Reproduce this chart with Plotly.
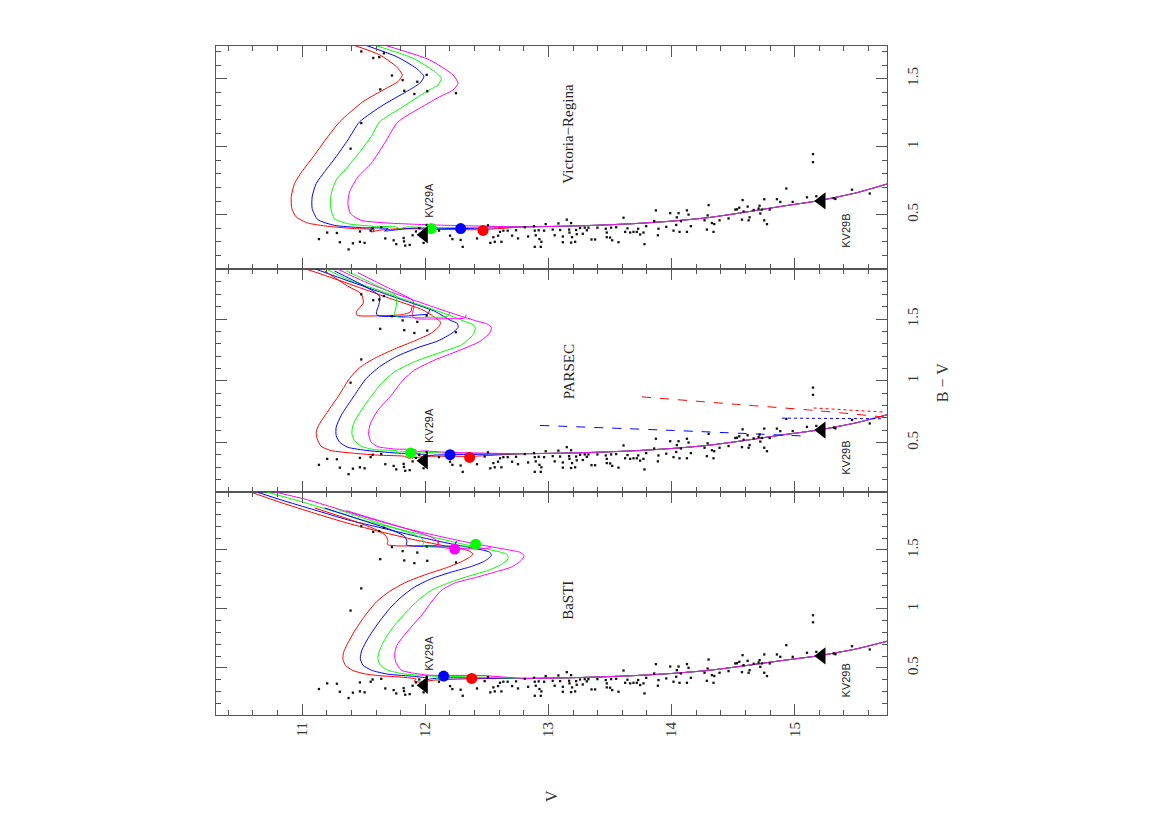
import plotly.graph_objects as go
from plotly.subplots import make_subplots

# ---------------- observed stars (V, B-V) ----------------
STAR_V = [11.48, 11.577, 11.626, 11.664, 11.729, 11.816, 11.935, 12.011, 11.634, 11.829, 11.911, 12.016, 12.249, 11.48, 11.393,
          11.136, 11.203, 11.282, 11.306, 11.377, 11.412, 11.469, 11.469, 11.507, 11.556, 11.572, 11.642, 11.675, 11.743, 11.764,
          11.824, 11.827, 11.837, 11.873, 11.897, 11.924, 11.951, 11.986, 12.011, 12.111, 12.201, 12.220, 12.287, 12.304, 12.420,
          12.482, 12.509, 12.528, 12.553, 12.564, 12.591, 12.607, 12.618, 12.634, 12.669, 12.705, 12.737, 12.753, 12.808, 12.835,
          12.883, 12.889, 12.897, 12.921, 12.927, 12.889, 12.938, 12.943, 12.978, 12.965,
          13.035, 13.051, 13.081, 13.095, 13.117, 13.117, 13.149, 13.168, 13.171, 13.184, 13.184, 13.192, 13.217, 13.225, 13.230,
          13.257, 13.279, 13.295, 13.312, 13.325, 13.350, 13.379, 13.398, 13.466, 13.474, 13.474, 13.501, 13.509, 13.518, 13.550,
          13.569, 13.610, 13.623, 13.642, 13.664, 13.691, 13.718, 13.729, 13.745, 13.772, 13.780, 13.794, 13.859, 13.873, 13.889,
          13.894, 13.957, 13.989, 14.016, 14.038, 14.043, 14.057, 14.065, 14.076, 14.125, 14.125, 14.138, 14.157, 14.268, 14.287,
          14.293, 14.301, 14.328, 14.341, 14.347, 14.390, 14.463, 14.518, 14.531, 14.550, 14.572, 14.577, 14.585, 14.618, 14.626,
          14.634, 14.667, 14.707, 14.715, 14.721, 14.734, 14.753, 14.753, 14.775, 14.797, 14.856, 14.883, 14.932, 14.984, 15.100,
          15.149, 15.149, 15.176, 15.317, 15.331, 15.466, 15.610]
STAR_BV = [1.70, 1.652, 1.658, 1.686, 1.523, 1.489, 1.477, 1.528, 1.421, 1.410, 1.387, 1.407, 1.393, 1.173, 0.985,
           0.320, 0.368, 0.365, 0.297, 0.244, 0.289, 0.376, 0.300, 0.292, 0.382, 0.401, 0.407, 0.325, 0.311, 0.283,
           0.328, 0.303, 0.272, 0.277, 0.348, 0.376, 0.401, 0.292, 0.424, 0.382, 0.345, 0.320, 0.314, 0.263, 0.325,
           0.387, 0.421, 0.292, 0.334, 0.300, 0.345, 0.373, 0.300, 0.382, 0.382, 0.345, 0.385, 0.325, 0.407, 0.339,
           0.415, 0.382, 0.348, 0.385, 0.320, 0.263, 0.263, 0.300, 0.430, 0.382,
           0.390, 0.348, 0.435, 0.387, 0.339, 0.297, 0.463, 0.390, 0.368, 0.438, 0.294, 0.334, 0.300, 0.387, 0.356,
           0.401, 0.359, 0.404, 0.385, 0.404, 0.317, 0.317, 0.404, 0.396, 0.368, 0.334, 0.331, 0.404, 0.311, 0.407,
           0.297, 0.477, 0.373, 0.399, 0.368, 0.373, 0.373, 0.396, 0.354, 0.368, 0.283, 0.415, 0.452, 0.531, 0.348,
           0.396, 0.410, 0.511, 0.382, 0.424, 0.480, 0.511, 0.373, 0.452, 0.531, 0.373, 0.500, 0.415, 0.458, 0.390,
           0.494, 0.570, 0.438, 0.373, 0.430, 0.458, 0.472, 0.537, 0.539, 0.551, 0.463, 0.607, 0.523, 0.559, 0.458,
           0.480, 0.534, 0.545, 0.565, 0.508, 0.537, 0.613, 0.458, 0.430, 0.537, 0.613, 0.593, 0.692, 0.593, 0.627,
           0.945, 0.886, 0.635, 0.621, 0.615, 0.683, 0.655]

# binary components
KV29_V = [11.99, 15.22]
KV29_BV = [0.352, 0.601]
KV29_NAMES = ["KV29A", "KV29B"]

# common lower main sequence of the isochrones
MS_V = [15.75, 15.5, 15.2, 14.9, 14.6, 14.3, 14.0, 13.7, 13.4, 13.1, 12.8]
MS_BV = [0.725, 0.66, 0.603, 0.562, 0.518, 0.478, 0.452, 0.434, 0.422, 0.414, 0.41]

# ---------------- BaSTI ----------------
BASTI_RED_V = [12.374, 12.076, 11.954, 11.908, 11.927, 11.805, 11.642, 11.507, 11.412, 11.352, 11.331, 11.336, 11.366, 11.425,
               11.507, 11.602, 11.710, 11.846, 12.008, 12.171, 12.293, 12.360, 12.388, 12.347, 12.184, 11.913, 11.642,
               11.371, 11.100, 10.829, 10.594]
BASTI_RED_BV = [0.407, 0.396, 0.379, 0.387, 0.404, 0.421, 0.432, 0.449, 0.477, 0.520, 0.573, 0.630, 0.700, 0.810,
                0.937, 1.058, 1.148, 1.227, 1.292, 1.348, 1.399, 1.438, 1.466, 1.494, 1.528, 1.585, 1.652,
                1.725, 1.810, 1.900, 1.985]
BASTI_BLUE_V = [12.184, 12.049, 11.995, 12.022, 11.913, 11.696, 11.561, 11.493, 11.472, 11.485, 11.534, 11.615, 11.710,
                11.805, 11.913, 12.049, 12.211, 12.374, 12.482, 12.537, 12.523, 12.455, 12.184, 11.913, 11.642, 11.371,
                11.100, 10.829, 10.640]
BASTI_BLUE_BV = [0.415, 0.407, 0.393, 0.410, 0.427, 0.446, 0.480, 0.523, 0.579, 0.649, 0.748, 0.875, 1.001,
                 1.100, 1.185, 1.255, 1.311, 1.359, 1.404, 1.452, 1.480, 1.500, 1.556, 1.618, 1.686, 1.754,
                 1.838, 1.923, 1.987]
BASTI_GREEN_V = [12.347, 12.157, 12.090, 12.117, 11.967, 11.805, 11.696, 11.634, 11.615, 11.629, 11.675, 11.751, 11.846,
                 11.940, 12.049, 12.184, 12.347, 12.509, 12.618, 12.672, 12.664, 12.591, 12.320, 12.049, 11.778, 11.507,
                 11.236, 10.965, 10.721]
BASTI_GREEN_BV = [0.424, 0.424, 0.410, 0.424, 0.435, 0.452, 0.480, 0.523, 0.579, 0.649, 0.748, 0.861, 0.973,
                  1.072, 1.156, 1.218, 1.275, 1.325, 1.376, 1.424, 1.461, 1.486, 1.545, 1.611, 1.677, 1.748,
                  1.832, 1.917, 1.987]
BASTI_MAGENTA_V = [12.455, 12.184, 12.022, 11.886, 11.805, 11.759, 11.751, 11.770, 11.818, 11.886, 11.981, 12.049, 12.130,
                   12.238, 12.401, 12.564, 12.699, 12.780, 12.802, 12.767, 12.672, 12.401, 12.130, 11.859, 11.588,
                   11.317, 11.046, 10.789]
BASTI_MAGENTA_BV = [0.435, 0.435, 0.438, 0.458, 0.480, 0.551, 0.621, 0.692, 0.762, 0.846, 0.959, 1.058, 1.156,
                    1.218, 1.263, 1.311, 1.354, 1.410, 1.452, 1.480, 1.500, 1.551, 1.611, 1.677, 1.754,
                    1.838, 1.923, 1.987]
# He-burning (clump + AGB) tracks
BASTI_HB_RED_V = [11.100, 11.371, 11.588, 11.678, 11.696, 11.691, 11.764, 11.967, 12.098, 12.108]
BASTI_HB_RED_BV = [1.855, 1.762, 1.677, 1.621, 1.579, 1.545, 1.534, 1.534, 1.542, 1.579]
BASTI_HB_BLUE_V = [11.182, 11.453, 11.724, 11.832, 11.851, 11.846, 11.913, 12.130, 12.238, 12.252]
BASTI_HB_BLUE_BV = [1.855, 1.762, 1.669, 1.613, 1.573, 1.542, 1.531, 1.531, 1.537, 1.573]
BASTI_HB_GREEN_V = [11.276, 11.561, 11.859, 11.967, 11.986, 11.981, 12.049, 12.293, 12.401]
BASTI_HB_GREEN_BV = [1.846, 1.748, 1.649, 1.601, 1.565, 1.537, 1.523, 1.523, 1.528]
BASTI_HB_MAGENTA_V = [11.358, 11.669, 11.995, 12.089, 12.108, 12.103, 12.184, 12.428, 12.537]
BASTI_HB_MAGENTA_BV = [1.832, 1.734, 1.630, 1.585, 1.551, 1.528, 1.514, 1.508, 1.517]

# ---------------- PARSEC ----------------
PARSEC_RED_V = [12.374, 12.022, 11.859, 11.832, 11.642, 11.425, 11.236, 11.154, 11.122, 11.114, 11.133, 11.182, 11.290,
                11.385, 11.466, 11.588, 11.751, 11.913, 12.049, 12.111, 12.125, 12.103, 11.981, 11.710, 11.439,
                11.168, 11.005]
PARSEC_RED_BV = [0.389, 0.389, 0.375, 0.389, 0.397, 0.413, 0.435, 0.470, 0.530, 0.584, 0.639, 0.715, 0.870,
                 1.019, 1.106, 1.182, 1.258, 1.323, 1.386, 1.440, 1.473, 1.495, 1.573, 1.668, 1.764,
                 1.859, 1.913]
PARSEC_BLUE_V = [12.238, 12.076, 11.981, 11.995, 11.805, 11.534, 11.371, 11.304, 11.276, 11.276, 11.317, 11.425, 11.520,
                 11.629, 11.764, 11.940, 12.103, 12.217, 12.266, 12.260, 12.211, 12.076, 11.805, 11.534, 11.263, 11.087]
PARSEC_BLUE_BV = [0.402, 0.399, 0.389, 0.402, 0.413, 0.435, 0.462, 0.503, 0.557, 0.625, 0.720, 0.883, 1.019,
                  1.114, 1.196, 1.269, 1.323, 1.386, 1.432, 1.465, 1.486, 1.563, 1.658, 1.753, 1.848, 1.913]
PARSEC_GREEN_V = [12.130, 11.805, 11.751, 11.772, 11.588, 11.480, 11.425, 11.404, 11.412, 11.453, 11.547, 11.642, 11.751,
                  11.913, 12.103, 12.293, 12.388, 12.407, 12.388, 12.320, 12.184, 11.913, 11.642, 11.371, 11.182]
PARSEC_GREEN_BV = [0.416, 0.427, 0.413, 0.432, 0.443, 0.470, 0.516, 0.571, 0.639, 0.720, 0.856, 0.978, 1.073,
                   1.155, 1.223, 1.291, 1.372, 1.427, 1.454, 1.481, 1.535, 1.630, 1.726, 1.821, 1.910]
PARSEC_MAGENTA_V = [12.184, 11.967, 11.913, 11.927, 11.751, 11.615, 11.561, 11.539, 11.553, 11.615, 11.724, 11.818, 11.913,
                    12.076, 12.266, 12.442, 12.523, 12.537, 12.504, 12.428, 12.293, 12.049, 11.778, 11.507, 11.276]
PARSEC_MAGENTA_BV = [0.421, 0.432, 0.421, 0.440, 0.448, 0.467, 0.503, 0.571, 0.652, 0.761, 0.883, 1.005, 1.087,
                     1.168, 1.242, 1.318, 1.386, 1.432, 1.459, 1.481, 1.522, 1.603, 1.698, 1.802, 1.910]
PARSEC_HB_RED_V = [11.182, 11.371, 11.480, 11.496, 11.439, 11.447, 11.642, 11.805, 11.881, 11.892]
PARSEC_HB_RED_BV = [1.889, 1.766, 1.704, 1.630, 1.557, 1.530, 1.527, 1.535, 1.557, 1.603]
PARSEC_HB_BLUE_V = [11.263, 11.480, 11.629, 11.623, 11.602, 11.615, 11.805, 11.967, 12.022, 12.035]
PARSEC_HB_BLUE_BV = [1.889, 1.780, 1.685, 1.617, 1.549, 1.527, 1.522, 1.535, 1.541, 1.576]
PARSEC_HB_GREEN_V = [11.358, 11.588, 11.764, 11.764, 11.751, 11.778, 12.022, 12.184, 12.198]
PARSEC_HB_GREEN_BV = [1.889, 1.780, 1.685, 1.603, 1.535, 1.516, 1.514, 1.522, 1.549]
PARSEC_HB_MAGENTA_V = [11.453, 11.696, 11.900, 11.905, 11.894, 11.927, 12.184, 12.320, 12.333]
PARSEC_HB_MAGENTA_BV = [1.875, 1.753, 1.649, 1.590, 1.522, 1.503, 1.503, 1.508, 1.535]
# extra PARSEC lines
PARSEC_RED_DASH_V = [13.759, 14.558, 15.154, 15.724]
PARSEC_RED_DASH_BV = [0.870, 0.807, 0.761, 0.707]
PARSEC_RED_DOT_V = [15.154, 15.724]
PARSEC_RED_DOT_BV = [0.780, 0.747]
PARSEC_BLUE_DASH_V = [12.932, 14.016, 15.100]
PARSEC_BLUE_DASH_BV = [0.639, 0.598, 0.552]
PARSEC_BLUE_DOT_V = [14.897, 15.724]
PARSEC_BLUE_DOT_BV = [0.698, 0.693]

# ---------------- Victoria-Regina ----------------
VR_RED_V = [12.455, 12.049, 11.805, 11.615, 11.561, 11.588, 11.425, 11.209, 11.046, 10.951, 10.916, 10.911, 10.938,
            10.997, 11.100, 11.209, 11.304, 11.493, 11.683, 11.778, 11.813, 11.764, 11.629, 11.425]
VR_RED_BV = [0.389, 0.392, 0.397, 0.384, 0.372, 0.389, 0.397, 0.414, 0.438, 0.483, 0.544, 0.631, 0.729,
             0.815, 0.938, 1.074, 1.182, 1.330, 1.429, 1.478, 1.527, 1.589, 1.675, 1.744]
VR_BLUE_V = [12.293, 11.913, 11.724, 11.669, 11.696, 11.480, 11.263, 11.127, 11.081, 11.081, 11.114, 11.182, 11.276,
             11.371, 11.466, 11.656, 11.846, 11.954, 11.989, 11.927, 11.764, 11.520]
VR_BLUE_BV = [0.397, 0.401, 0.384, 0.379, 0.397, 0.404, 0.421, 0.463, 0.544, 0.631, 0.729, 0.815, 0.926,
              1.049, 1.182, 1.305, 1.404, 1.466, 1.515, 1.576, 1.663, 1.744]
VR_GREEN_V = [12.049, 11.846, 11.791, 11.764, 11.588, 11.371, 11.263, 11.230, 11.236, 11.276, 11.371, 11.480, 11.561,
              11.629, 11.818, 12.008, 12.103, 12.130, 12.076, 11.900, 11.596]
VR_GREEN_BV = [0.404, 0.409, 0.397, 0.409, 0.414, 0.433, 0.470, 0.557, 0.655, 0.754, 0.852, 0.975, 1.074,
               1.182, 1.293, 1.404, 1.453, 1.502, 1.552, 1.650, 1.744]
VR_MAGENTA_V = [12.184, 11.913, 11.696, 11.480, 11.393, 11.371, 11.385, 11.453, 11.561, 11.669, 11.778, 11.927, 12.117,
                12.225, 12.266, 12.225, 12.035, 11.678]
VR_MAGENTA_BV = [0.421, 0.429, 0.438, 0.458, 0.507, 0.581, 0.667, 0.778, 0.877, 1.025, 1.182, 1.268, 1.367,
                 1.416, 1.466, 1.527, 1.638, 1.744]

# coloured reference points
BASTI_DOT_V = [12.377, 12.149, 12.409, 12.238]
BASTI_DOT_BV = [0.410, 0.430, 1.548, 1.506]
BASTI_DOT_C = ["red", "blue", "green", "magenta"]
PARSEC_DOT_V = [12.360, 12.201, 11.881]
PARSEC_DOT_BV = [0.380, 0.402, 0.416]
PARSEC_DOT_C = ["red", "blue", "green"]
VR_DOT_V = [12.469, 12.287, 12.049]
VR_DOT_BV = [0.384, 0.397, 0.397]
VR_DOT_C = ["red", "blue", "green"]

PANEL_NAMES = ["Victoria\u2212Regina", "PARSEC", "BaSTI"]
Y_RANGES = [[0.1, 1.74], [0.1, 1.905], [0.1, 1.99]]
X_RANGE = [10.3, 15.75]

COL = {"red": "#ff0000", "blue": "#0000ff", "green": "#00ff00", "magenta": "#ff00ff"}
SERIF = "Liberation Serif, DejaVu Serif, serif"
SANS = "Liberation Sans, DejaVu Sans, sans-serif"

fig = make_subplots(rows=3, cols=1, shared_xaxes=True, vertical_spacing=0)

def line(row, xs, ys, color, dash="solid", full=True):
    if full:
        xs = MS_V + xs
        ys = MS_BV + ys
    fig.add_trace(go.Scatter(x=xs, y=ys, mode="lines",
                             line=dict(color=COL[color], width=1, dash=dash, shape="spline", smoothing=0.6),
                             showlegend=False, hoverinfo="skip"), row=row, col=1)

# VR (row 1)
line(1, VR_RED_V, VR_RED_BV, "red")
line(1, VR_BLUE_V, VR_BLUE_BV, "blue")
line(1, VR_GREEN_V, VR_GREEN_BV, "green")
line(1, VR_MAGENTA_V, VR_MAGENTA_BV, "magenta")
# PARSEC (row 2)
line(2, PARSEC_RED_V, PARSEC_RED_BV, "red")
line(2, PARSEC_BLUE_V, PARSEC_BLUE_BV, "blue")
line(2, PARSEC_GREEN_V, PARSEC_GREEN_BV, "green")
line(2, PARSEC_MAGENTA_V, PARSEC_MAGENTA_BV, "magenta")
line(2, PARSEC_HB_RED_V, PARSEC_HB_RED_BV, "red", full=False)
line(2, PARSEC_HB_BLUE_V, PARSEC_HB_BLUE_BV, "blue", full=False)
line(2, PARSEC_HB_GREEN_V, PARSEC_HB_GREEN_BV, "green", full=False)
line(2, PARSEC_HB_MAGENTA_V, PARSEC_HB_MAGENTA_BV, "magenta", full=False)
line(2, PARSEC_RED_DASH_V, PARSEC_RED_DASH_BV, "red", dash="dash", full=False)
line(2, PARSEC_RED_DOT_V, PARSEC_RED_DOT_BV, "red", dash="dot", full=False)
line(2, PARSEC_BLUE_DASH_V, PARSEC_BLUE_DASH_BV, "blue", dash="dash", full=False)
line(2, PARSEC_BLUE_DOT_V, PARSEC_BLUE_DOT_BV, "blue", dash="dot", full=False)
# BaSTI (row 3)
line(3, BASTI_RED_V, BASTI_RED_BV, "red")
line(3, BASTI_BLUE_V, BASTI_BLUE_BV, "blue")
line(3, BASTI_GREEN_V, BASTI_GREEN_BV, "green")
line(3, BASTI_MAGENTA_V, BASTI_MAGENTA_BV, "magenta")
line(3, BASTI_HB_RED_V, BASTI_HB_RED_BV, "red", full=False)
line(3, BASTI_HB_BLUE_V, BASTI_HB_BLUE_BV, "blue", full=False)
line(3, BASTI_HB_GREEN_V, BASTI_HB_GREEN_BV, "green", full=False)
line(3, BASTI_HB_MAGENTA_V, BASTI_HB_MAGENTA_BV, "magenta", full=False)

dot_sets = [(VR_DOT_V, VR_DOT_BV, VR_DOT_C), (PARSEC_DOT_V, PARSEC_DOT_BV, PARSEC_DOT_C),
            (BASTI_DOT_V, BASTI_DOT_BV, BASTI_DOT_C)]

for r in (1, 2, 3):
    fig.add_trace(go.Scatter(x=STAR_V, y=STAR_BV, mode="markers",
                             marker=dict(symbol="square", size=2.3, color="#111", line=dict(width=0)),
                             showlegend=False, hoverinfo="skip"), row=r, col=1)
    dv, dbv, dc = dot_sets[r - 1]
    fig.add_trace(go.Scatter(x=dv, y=dbv, mode="markers",
                             marker=dict(symbol="circle", size=11, color=[COL[c] for c in dc], line=dict(width=0)),
                             showlegend=False, hoverinfo="skip"), row=r, col=1)
    fig.add_trace(go.Scatter(x=KV29_V, y=KV29_BV, mode="markers",
                             marker=dict(symbol="triangle-left", size=15, color="black", line=dict(width=0)),
                             showlegend=False, hoverinfo="skip"), row=r, col=1)

axis_common = dict(showgrid=False, zeroline=False, showline=True, linecolor="#555", linewidth=1,
                   mirror="allticks", ticks="inside", tickcolor="#555", tickwidth=1)

for r in (1, 2, 3):
    fig.update_xaxes(range=X_RANGE, dtick=1, tick0=11, ticklen=11,
                     minor=dict(ticks="inside", dtick=0.2, tick0=11, ticklen=5, tickcolor="#555"),
                     tickangle=-90, tickfont=dict(family=SERIF, size=15, color="#333"),
                     showticklabels=(r == 3), row=r, col=1, **axis_common)
    fig.update_yaxes(range=Y_RANGES[r - 1], tickvals=[0.5, 1, 1.5], ticktext=["0.5", "1", "1.5"],
                     ticklen=11, side="right",
                     minor=dict(ticks="inside", dtick=0.1, tick0=0, ticklen=5, tickcolor="#555"),
                     tickangle=-90, tickfont=dict(family=SERIF, size=15, color="#333"),
                     ticklabelstandoff=12, row=r, col=1, **axis_common)

# annotations
ann = []
label_pos = [(13.163, 1.099), (13.163, 1.073), (13.163, 1.072)]
kva_pos = [(12.035, 0.606), (12.035, 0.639), (12.035, 0.624)]
kvb_pos = [(15.42, 0.384), (15.42, 0.380), (15.42, 0.396)]
for i in range(3):
    xr = "x" if i == 0 else "x%d" % (i + 1)
    yr = "y" if i == 0 else "y%d" % (i + 1)
    ann.append(dict(x=label_pos[i][0], y=label_pos[i][1], xref=xr, yref=yr, text=PANEL_NAMES[i],
                    textangle=-90, showarrow=False, font=dict(family=SERIF, size=15, color="#222")))
    ann.append(dict(x=kva_pos[i][0], y=kva_pos[i][1], xref=xr, yref=yr, text=KV29_NAMES[0],
                    textangle=-90, showarrow=False, font=dict(family=SANS, size=11, color="#222")))
    ann.append(dict(x=kvb_pos[i][0], y=kvb_pos[i][1], xref=xr, yref=yr, text=KV29_NAMES[1],
                    textangle=-90, showarrow=False, font=dict(family=SANS, size=11, color="#222")))

ann.append(dict(x=0.5, y=-0.122, xref="paper", yref="paper", text="V", textangle=-90, showarrow=False,
                xanchor="center", yanchor="middle", font=dict(family=SERIF, size=16, color="#333")))
ann.append(dict(x=1.083, y=0.497, xref="paper", yref="paper", text="B \u2212 V", textangle=-90, showarrow=False,
                xanchor="center", yanchor="middle", font=dict(family=SERIF, size=16, color="#333")))

fig.update_layout(width=1170, height=827, margin=dict(l=216, r=283, t=46, b=112),
                  paper_bgcolor="white", plot_bgcolor="white", annotations=ann, showlegend=False)

fig.write_html("out.html", config={"displayModeBar": False},
               post_script="document.body.style.margin='0';")
